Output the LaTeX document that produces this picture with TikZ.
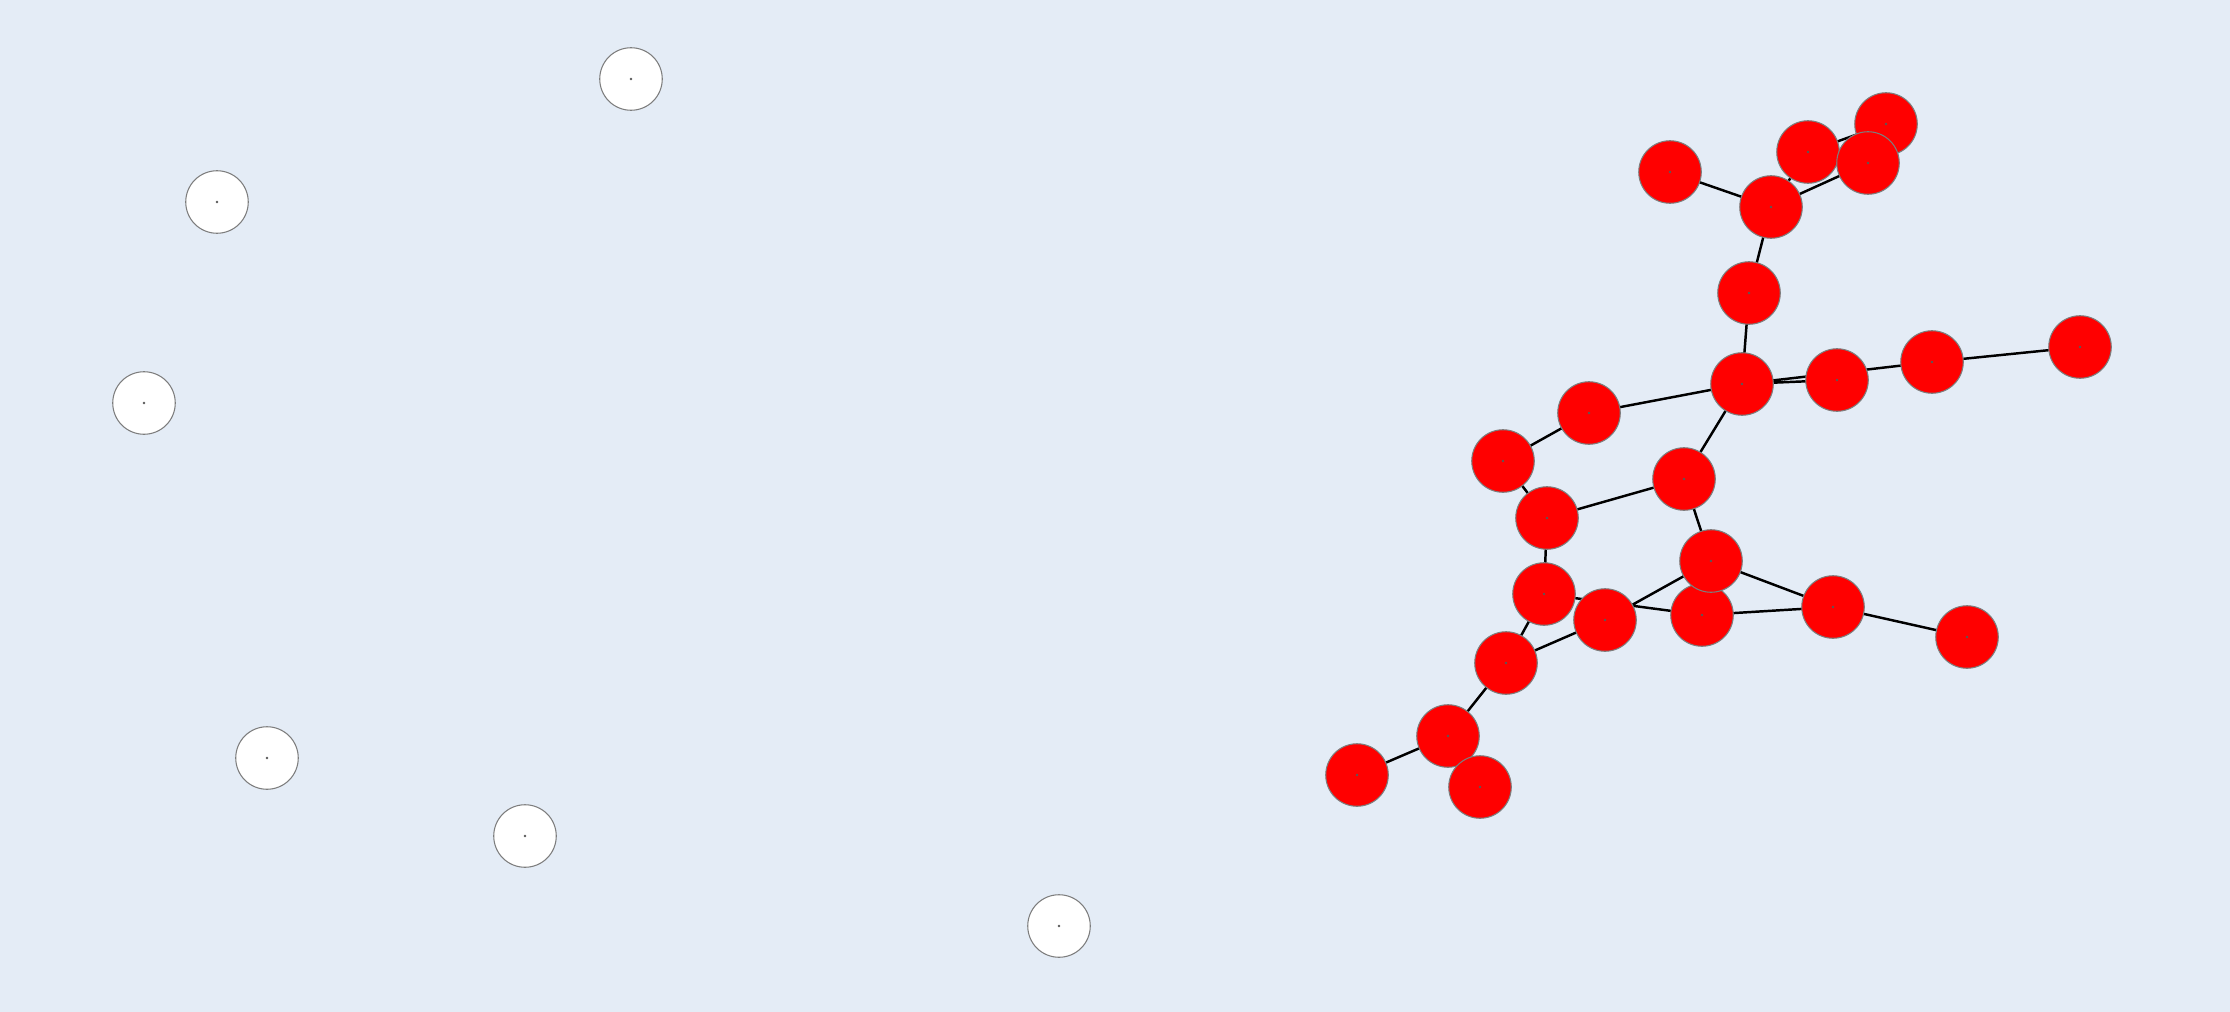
\documentclass[tikz,border=0pt]{standalone}
\usepackage{tikz}
\definecolor{canvasblue}{RGB}{228,236,246}
\definecolor{nodered}{RGB}{255,0,0}
\definecolor{rimgray}{RGB}{125,125,125}
\pgfdeclarelayer{backdrop}
\pgfdeclarelayer{edgelayer}
\pgfsetlayers{backdrop,edgelayer,main}
\tikzset{
  vert/.style={circle,minimum size=0.625cm,inner sep=0pt,outer sep=0pt,draw=rimgray,line width=0.3pt,
    path picture={\fill[black!65] (path picture bounding box.center) circle (0.4pt);}},
  redvert/.style={vert,fill=nodered},
  lonevert/.style={vert,fill=white},
  link/.style={line width=0.7pt,black}
}

\begin{document}
\begin{tikzpicture}[x=0.01cm,y=-0.01cm]
  \begin{pgfonlayer}{backdrop}
    \fill[canvasblue] (0,0) rectangle (2230,1012);
  \end{pgfonlayer}
  % isolated vertices
  \node[lonevert] (P1) at (631,79) {};
  \node[lonevert] (P2) at (217,202) {};
  \node[lonevert] (P3) at (144,403) {};
  \node[lonevert] (P4) at (267,758) {};
  \node[lonevert] (P5) at (525,836) {};
  \node[lonevert] (P6) at (1059,926) {};
  % connected component
  \node[redvert] (A) at (1670,172) {};
  \node[redvert] (B) at (1771,207) {};
  \node[redvert] (C) at (1808,152) {};
  \node[redvert] (D) at (1886,124) {};
  \node[redvert] (E) at (1868,163) {};
  \node[redvert] (F) at (1749,293) {};
  \node[redvert] (G) at (1742,384) {};
  \node[redvert] (H) at (1837,380) {};
  \node[redvert] (I) at (1932,362) {};
  \node[redvert] (J) at (2080,347) {};
  \node[redvert] (K) at (1589,413) {};
  \node[redvert] (L) at (1503,461) {};
  \node[redvert] (M) at (1684,479) {};
  \node[redvert] (N) at (1547,518) {};
  \node[redvert] (R) at (1702,615) {};
  \node[redvert] (O) at (1711,561) {};
  \node[redvert] (Q) at (1605,620) {};
  \node[redvert] (S) at (1833,607) {};
  \node[redvert] (T) at (1967,637) {};
  \node[redvert] (U) at (1506,663) {};
  \node[redvert] (V) at (1448,736) {};
  \node[redvert] (W) at (1357,775) {};
  \node[redvert] (X) at (1480,787) {};
  \node[redvert] (Y) at (1544,594) {};
  \begin{pgfonlayer}{edgelayer}
    \draw[link] (A)--(B) (B)--(C) (B)--(E) (C)--(D) (B)--(F) (F)--(G)
      (G)--(H) (G)--(I) (I)--(J) (G)--(K) (K)--(L) (G)--(M)
      (L)--(N) (N)--(M) (M)--(O) (N)--(Y) (O)--(Q) (O)--(S)
      (R)--(S) (Y)--(R) (S)--(T) (Q)--(U) (Y)--(U) (U)--(V) (V)--(W);
  \end{pgfonlayer}
\end{tikzpicture}
\end{document}
